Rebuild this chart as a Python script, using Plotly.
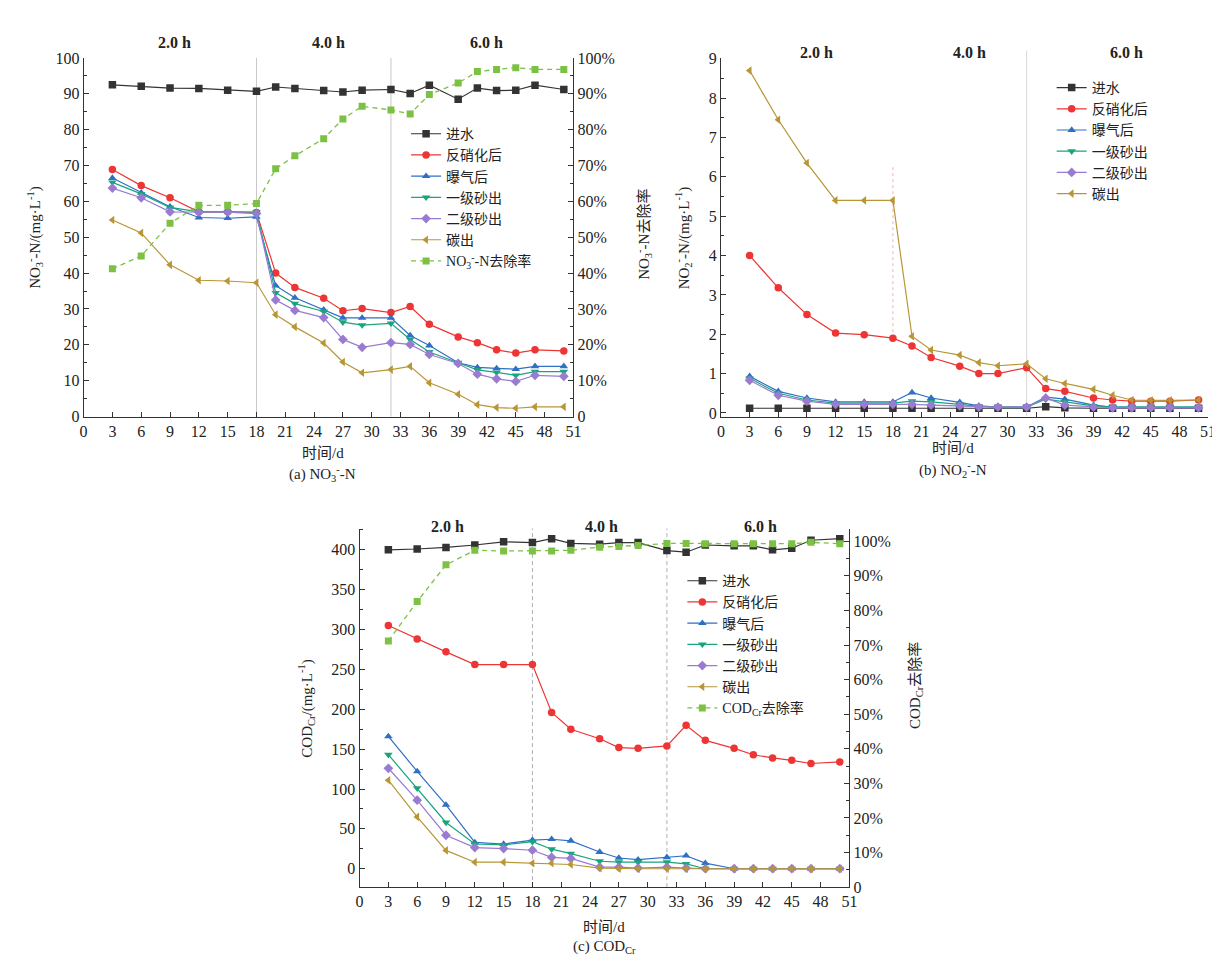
import plotly.graph_objects as go

# ---------------- data ----------------
days = [3, 6, 9, 12, 15, 18, 20, 22, 25, 27, 29, 32, 34, 36, 39, 41, 43, 45, 47, 50]
series_names = ["进水", "反硝化后", "曝气后", "一级砂出", "二级砂出", "碳出"]
period_labels = ["2.0 h", "4.0 h", "6.0 h"]
period_bounds = [0, 18, 32, 51]
x_ticks = list(range(0, 52, 3))

# (a) NO3--N, mg/L
no3_inflow = [92.5, 92.1, 91.6, 91.5, 91.0, 90.7, 91.9, 91.5, 90.9, 90.5, 91.0, 91.2, 90.1, 92.4, 88.5, 91.6, 90.9, 91.0, 92.4, 91.2]
no3_denit = [68.9, 64.4, 61.0, 57.1, 57.1, 56.9, 40.0, 36.0, 33.0, 29.5, 30.1, 29.0, 30.7, 25.7, 22.2, 20.6, 18.6, 17.7, 18.6, 18.3]
no3_aer = [66.5, 62.4, 58.5, 55.5, 55.3, 55.7, 36.5, 33.1, 29.8, 27.5, 27.5, 27.5, 22.6, 19.8, 15.0, 13.7, 13.4, 13.2, 14.0, 14.0]
no3_sand1 = [65.3, 62.1, 58.3, 57.1, 57.1, 57.0, 34.5, 31.5, 29.3, 26.3, 25.5, 26.0, 21.5, 18.0, 15.0, 13.0, 12.3, 11.5, 12.5, 12.5]
no3_sand2 = [63.7, 61.0, 57.1, 57.0, 57.0, 56.6, 32.5, 29.6, 27.6, 21.5, 19.3, 20.6, 20.1, 17.3, 14.8, 11.8, 10.5, 9.8, 11.5, 11.2]
no3_carbon = [54.8, 51.2, 42.3, 38.0, 37.8, 37.3, 28.4, 25.0, 20.5, 15.2, 12.2, 13.1, 14.0, 9.4, 6.2, 3.3, 2.5, 2.3, 2.7, 2.7]
no3_removal = [0.412, 0.448, 0.539, 0.589, 0.589, 0.594, 0.691, 0.727, 0.775, 0.830, 0.865, 0.855, 0.844, 0.898, 0.930, 0.962, 0.968, 0.973, 0.968, 0.968]

# (b) NO2--N, mg/L
no2_inflow = [0.12, 0.12, 0.12, 0.12, 0.12, 0.12, 0.12, 0.12, 0.12, 0.12, 0.12, 0.12, 0.16, 0.13, 0.12, 0.12, 0.12, 0.12, 0.12, 0.12]
no2_denit = [4.0, 3.18, 2.5, 2.03, 1.99, 1.9, 1.7, 1.41, 1.19, 1.0, 1.0, 1.15, 0.62, 0.55, 0.38, 0.33, 0.3, 0.3, 0.3, 0.33]
no2_aer = [0.93, 0.55, 0.38, 0.28, 0.28, 0.28, 0.52, 0.38, 0.27, 0.18, 0.15, 0.15, 0.40, 0.35, 0.20, 0.15, 0.15, 0.15, 0.15, 0.15]
no2_sand1 = [0.88, 0.50, 0.33, 0.25, 0.25, 0.25, 0.30, 0.28, 0.22, 0.17, 0.15, 0.15, 0.35, 0.28, 0.18, 0.15, 0.15, 0.15, 0.15, 0.15]
no2_sand2 = [0.83, 0.45, 0.30, 0.22, 0.22, 0.22, 0.22, 0.20, 0.18, 0.15, 0.15, 0.15, 0.38, 0.20, 0.15, 0.13, 0.13, 0.13, 0.13, 0.13]
no2_carbon = [8.7, 7.45, 6.35, 5.4, 5.4, 5.4, 1.95, 1.6, 1.47, 1.28, 1.2, 1.25, 0.87, 0.75, 0.6, 0.45, 0.33, 0.32, 0.32, 0.33]

# (c) CODCr, mg/L
cod_inflow = [400, 401, 403, 406, 410, 409, 414, 408, 407, 409, 409, 399, 397, 406, 405, 405, 400, 402, 412, 414]
cod_denit = [305, 288, 272, 256, 256, 256, 196, 175, 163, 152, 151, 154, 180, 161, 151, 143, 139, 136, 132, 134]
cod_aer = [166, 122, 80, 33, 31, 36, 37, 35, 21, 13.5, 11.4, 14.3, 16.3, 7, 0, 0, 0, 0, 0, 0]
cod_sand1 = [143, 101, 58, 31, 30, 34, 24.5, 19, 9.4, 8.2, 8.2, 8.2, 6.1, 0, 0, 0, 0, 0, 0, 0]
cod_sand2 = [126, 86, 42, 26.5, 25.3, 23.2, 14.3, 13, 2, 2, 0.8, 2, 0.8, 0, 0, 0, 0, 0, 0, 0]
cod_carbon = [111, 65, 23, 8.2, 8.2, 6.9, 6.9, 5.3, 0.8, 0, 0, 0, 0, 0, 0, 0, 0, 0, 0, 0]
cod_removal = [0.712, 0.826, 0.932, 0.974, 0.972, 0.972, 0.972, 0.974, 0.983, 0.985, 0.988, 0.994, 0.994, 0.993, 0.993, 0.993, 0.993, 0.993, 0.997, 0.993]

pct_vals = [i / 10 for i in range(0, 11)]
pct_text = ["0"] + [f"{i * 10}%" for i in range(1, 11)]

# ---------------- styles ----------------
W, H = 1220, 965
FONT = "Liberation Serif, Noto Sans CJK SC, serif"
colors = ["#333333", "#ee3535", "#2f6fc4", "#19a47e", "#9a7bd2", "#b89636"]
symbols = ["square", "circle", "triangle-up", "triangle-down", "diamond", "triangle-left"]
removal_color = "#7cc143"
axis_color = "#333333"


def px_x(p):
    return p / W


def px_y(p):
    return 1 - p / H


fig = go.Figure()


def add_series(values, xa, ya, legend):
    for name, vals, c, s in zip(series_names, values, colors, symbols):
        fig.add_trace(go.Scatter(
            x=days, y=vals, name=name, mode="lines+markers",
            line=dict(color=c, width=1.2),
            marker=dict(symbol=s, size=7.5, color=c),
            xaxis=xa, yaxis=ya, legend=legend))


add_series([no3_inflow, no3_denit, no3_aer, no3_sand1, no3_sand2, no3_carbon], "x", "y", "legend")
fig.add_trace(go.Scatter(x=days, y=no3_removal, name="NO<sub>3</sub><sup>-</sup>-N去除率",
                         mode="lines+markers", line=dict(color=removal_color, width=1.3, dash="5px,4px"),
                         marker=dict(symbol="square", size=7, color=removal_color),
                         xaxis="x", yaxis="y2", legend="legend"))
add_series([no2_inflow, no2_denit, no2_aer, no2_sand1, no2_sand2, no2_carbon], "x2", "y3", "legend2")
add_series([cod_inflow, cod_denit, cod_aer, cod_sand1, cod_sand2, cod_carbon], "x3", "y4", "legend3")
fig.add_trace(go.Scatter(x=days, y=cod_removal, name="COD<sub>Cr</sub>去除率",
                         mode="lines+markers", line=dict(color=removal_color, width=1.3, dash="5px,4px"),
                         marker=dict(symbol="square", size=7, color=removal_color),
                         xaxis="x3", yaxis="y5", legend="legend3"))

tickfont = dict(family=FONT, size=16, color="#222")


def xax(x0, x1, anchor):
    return dict(domain=[px_x(x0), px_x(x1)], anchor=anchor, range=[0, 51],
                tickmode="array", tickvals=x_ticks, ticks="inside", ticklen=5,
                tickcolor=axis_color, showline=True, linecolor=axis_color, linewidth=1,
                showgrid=False, zeroline=False, tickfont=tickfont)


def yax(y_top, y_bot, anchor, rng, tickvals, minor, side="left", overlaying=None, ticktext=None):
    d = dict(domain=[px_y(y_bot), px_y(y_top)], anchor=anchor, range=rng,
             tickmode="array", tickvals=tickvals, ticks="inside", ticklen=5,
             tickcolor=axis_color, showline=True, linecolor=axis_color, linewidth=1,
             showgrid=False, zeroline=False, tickfont=tickfont, side=side,
             minor=dict(dtick=minor, ticks="inside", ticklen=3, tickcolor=axis_color, showgrid=False))
    if ticktext is not None:
        d["ticktext"] = ticktext
    if overlaying:
        d["overlaying"] = overlaying
        d.pop("domain")
    return d


A_L, A_R, TOP, BOT = 72.3, 567, 42.7, 407.7
B_L, B_R = 716, 1208
C_L, C_R, C_TOP, C_BOT = 351, 845.7, 521.7, 886.7

fig.update_layout(
    xaxis=xax(A_L, A_R, "y"),
    yaxis=yax(TOP, BOT, "x", [0, 100], list(range(0, 101, 10)), 5),
    yaxis2=yax(TOP, BOT, "x", [0, 1], pct_vals, 0.05, side="right", overlaying="y", ticktext=pct_text),
    xaxis2=xax(B_L, B_R, "y3"),
    yaxis3=yax(TOP, BOT, "x2", [-0.09, 9.02], list(range(0, 10)), 0.5),
    xaxis3=xax(C_L, C_R, "y4"),
    yaxis4=yax(C_TOP, C_BOT, "x3", [-23, 426.7], list(range(0, 401, 50)), 25),
    yaxis5=yax(C_TOP, C_BOT, "x3", [0, 1.037], pct_vals, 0.05, side="right", overlaying="y4", ticktext=pct_text),
)

legend_common = dict(bgcolor="rgba(0,0,0,0)", borderwidth=0, xanchor="left", yanchor="top",
                     font=dict(family=FONT, size=14, color="#222"), tracegroupgap=0,
                     itemclick=False)
fig.update_layout(
    legend=dict(x=px_x(398), y=px_y(104), **legend_common),
    legend2=dict(x=px_x(1050), y=px_y(57), **legend_common),
    legend3=dict(x=px_x(677), y=px_y(559), **legend_common),
)

# phase boundary lines
shapes = []
for b in period_bounds[1:-1]:
    shapes.append(dict(type="line", xref="x", yref="y domain", x0=b, x1=b, y0=0, y1=1,
                       line=dict(color="#c8c8c8", width=1), layer="below"))
    shapes.append(dict(type="line", xref="x3", yref="y4 domain", x0=b, x1=b, y0=0, y1=1,
                       line=dict(color="#b0b0b0", width=1, dash="4px,3px"), layer="below"))
shapes.append(dict(type="line", xref="x2", yref="y3", x0=period_bounds[1], x1=period_bounds[1], y0=1.9, y1=6.3,
                   line=dict(color="#f0b0b0", width=1, dash="dot"), layer="below"))
shapes.append(dict(type="line", xref="x2", yref="y3 domain", x0=period_bounds[2], x1=period_bounds[2], y0=0, y1=1.02,
                   line=dict(color="#d8d8d8", width=1), layer="below"))
fig.update_layout(shapes=shapes)

ann = []
period_font = dict(family=FONT, size=16, color="#222")
centers = [(period_bounds[i] + period_bounds[i + 1]) / 2 + 0.5 for i in range(3)]
for lbl, cx in zip(period_labels, centers):
    for xr, dx, ypx in (("x", 0, 27), ("x2", 0.5, 37), ("x3", -0.3, 520)):
        ann.append(dict(text=f"<b>{lbl}</b>", x=cx + dx, xref=xr, y=px_y(ypx), yref="paper",
                        xanchor="center", yanchor="middle", showarrow=False, font=period_font))


def txt(text, x, y, angle=0, size=15):
    ann.append(dict(text=text, x=px_x(x), y=px_y(y), xref="paper", yref="paper", showarrow=False,
                    textangle=angle, xanchor="center", yanchor="middle",
                    font=dict(family=FONT, size=size, color="#222")))


txt("NO<sub>3</sub><sup>-</sup>-N/(mg·L<sup>-1</sup>)", 23, 225, -90)
txt("NO<sub>3</sub><sup>-</sup>-N去除率", 638, 222, -90)
txt("NO<sub>2</sub><sup>-</sup>-N/(mg·L<sup>-1</sup>)", 678, 226, -90)
txt("COD<sub>Cr</sub>/(mg·L<sup>-1</sup>)", 297, 705, -90)
txt("COD<sub>Cr</sub>去除率", 913, 682, -90)
txt("时间/d", (A_L + A_R) / 2 - 6, 445)
txt("(a) NO<sub>3</sub><sup>-</sup>-N", (A_L + A_R) / 2 - 6, 466)
txt("时间/d", (B_L + B_R) / 2 - 12, 440)
txt("(b) NO<sub>2</sub><sup>-</sup>-N", (B_L + B_R) / 2 - 12, 462)
txt("时间/d", (C_L + C_R) / 2, 927)
txt("(c) COD<sub>Cr</sub>", (C_L + C_R) / 2, 948)

fig.update_layout(annotations=ann, width=W, height=H, margin=dict(l=0, r=0, t=0, b=0),
                  paper_bgcolor="white", plot_bgcolor="rgba(0,0,0,0)",
                  font=dict(family=FONT, size=15, color="#222"))

fig.write_html("out.html")
